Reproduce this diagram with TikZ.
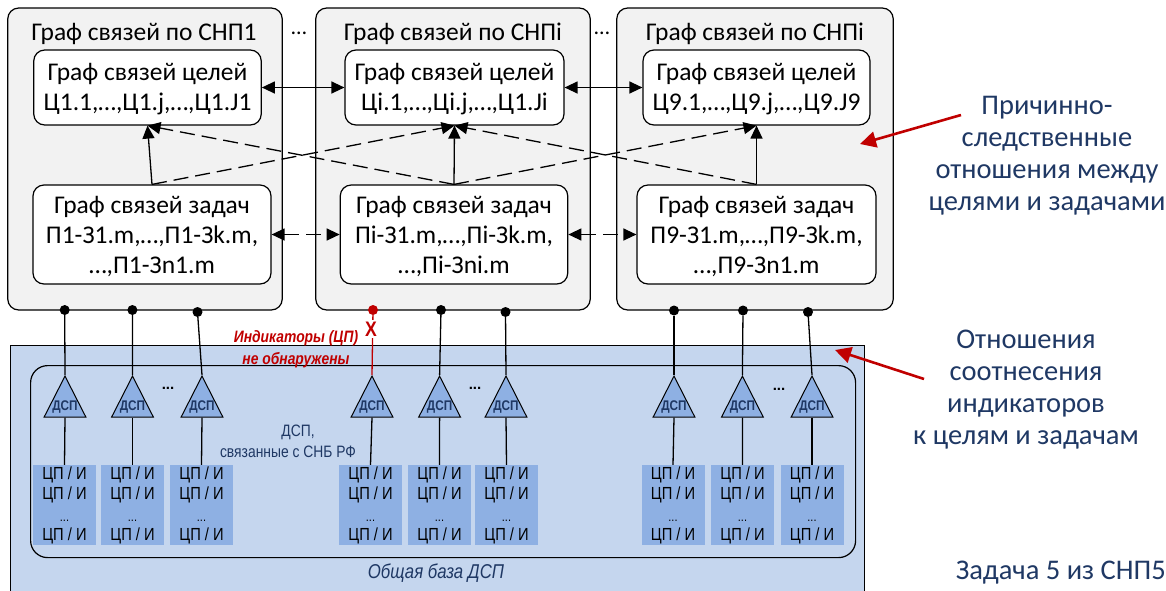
\documentclass[tikz,border=0pt]{standalone}
\usepackage{fontspec}
\setmainfont{Carlito}
\newfontfamily\arialf{Liberation Sans}
\newfontfamily\arialn[FakeStretch=0.84]{Liberation Sans}
\usetikzlibrary{arrows.meta,shapes.geometric}
\definecolor{navytext}{HTML}{1F3864}
\definecolor{redc}{HTML}{C00000}
\definecolor{basefill}{HTML}{C5D6EE}
\definecolor{cellfill}{HTML}{8EB0E3}
\definecolor{panelfill}{HTML}{F2F2F2}
\newcommand{\dropstrut}{\rule{0pt}{21pt}}
\newcommand{\celltext}{ЦП / И\\ЦП / И\\[2pt]{\fontsize{13}{13}\selectfont ...}\\[-1pt]ЦП / И}
\tikzset{
  panel/.style={draw=black,line width=1.2pt,fill=panelfill,rounded corners=11pt,inner sep=0pt},
  graphbox/.style={draw=black,line width=1.2pt,fill=white,rounded corners=11pt,inner sep=0pt,align=center,
    font=\fontsize{25.5}{30}\selectfont},
  paneltitle/.style={font=\fontsize{25.5}{26}\selectfont,inner sep=0pt},
  conn/.style={line width=1.3pt,draw=black},
  headboth/.style={{Triangle[length=13pt,width=12pt]}-{Triangle[length=13pt,width=12pt]}},
  headend/.style={-{Triangle[length=13pt,width=12pt]}},
  dashline/.style={dash pattern=on 15pt off 7pt},
  dotnode/.style={circle,fill=black,minimum size=10pt,inner sep=0pt},
  trinode/.style={isosceles triangle,isosceles triangle apex angle=54,shape border rotate=90,
    draw=black,line width=1pt,fill=cellfill,minimum height=41pt,inner sep=0pt,anchor=apex},
  dsplabel/.style={font=\arialn\bfseries\fontsize{14}{16}\selectfont,text=navytext,inner sep=0pt},
  cellnode/.style={fill=cellfill,minimum width=63pt,minimum height=80pt,inner sep=0pt,align=center,
    font=\arialn\fontsize{17.5}{20}\selectfont},
  notetext/.style={font=\fontsize{28.5}{32}\selectfont,text=navytext,align=center,inner sep=0pt},
  redarrow/.style={draw=redc,line width=2.6pt,-{Triangle[length=16pt,width=16pt]}},
}
\begin{document}
\begin{tikzpicture}[x=1pt,y=-1pt]
\useasboundingbox (0,0) rectangle (1166,590);
% base
\node[draw=black,line width=1.2pt,fill=basefill,minimum width=854pt,minimum height=250pt,inner sep=0pt,anchor=north west] (base) at (10,345) {};
\node[draw=black,line width=1.2pt,rounded corners=17pt,minimum width=825pt,minimum height=192pt,inner sep=0pt,anchor=north west] (inner) at (30,365) {};
% panels
\node[panel,minimum width=274.5pt,minimum height=302pt] (p1) at (145,159) {};
\node[panel,minimum width=274.5pt,minimum height=302pt] (p2) at (453,159) {};
\node[panel,minimum width=276.5pt,minimum height=302pt] (p3) at (755,159) {};
\node[paneltitle] (pt1) at (144,34) {Граф связей по СНП1};
\node[paneltitle] (pt2) at (453,34) {Граф связей по СНПi};
\node[paneltitle] (pt3) at (755,34) {Граф связей по СНПi};
\node[font=\fontsize{22}{26}\selectfont,inner sep=0pt] (dots1) at (299,33) {…};
\node[font=\fontsize{22}{26}\selectfont,inner sep=0pt] (dots2) at (602,33) {…};
% goals
\node[graphbox,minimum width=227.5pt,minimum height=75pt] (g1) at (147.5,87.5) {\dropstrut Граф связей целей\\Ц1.1,…,Ц1.j,…,Ц1.J1};
\node[graphbox,minimum width=219pt,minimum height=75pt] (g2) at (454.5,87.5) {\dropstrut Граф связей целей\\Ці.1,…,Ці.j,…,Ц1.Ji};
\node[graphbox,minimum width=227pt,minimum height=75pt] (g3) at (756.5,87.5) {\dropstrut Граф связей целей\\Ц9.1,…,Ц9.j,…,Ц9.J9};
% tasks
\node[graphbox,minimum width=238pt,minimum height=99pt] (t1) at (152,234.5) {\dropstrut Граф связей задач\\П1-З1.m,…,П1-Зk.m,\\…,П1-Зn1.m};
\node[graphbox,minimum width=227.5pt,minimum height=99pt] (t2) at (454,234.5) {\dropstrut Граф связей задач\\Пі-З1.m,…,Пі-Зk.m,\\…,Пі-Зni.m};
\node[graphbox,minimum width=239pt,minimum height=99pt] (t3) at (756.5,234.5) {\dropstrut Граф связей задач\\П9-З1.m,…,П9-Зk.m,\\…,П9-Зn1.m};
% connectors between graphs
\draw[conn,headboth] (g1) -- (g2);
\draw[conn,headboth] (g2) -- (g3);
\draw[conn,headboth,dashline] (t1) -- (t2);
\draw[conn,headboth,dashline] (t2) -- (t3);
\draw[conn,headend] (t1.north) -- (g1.south);
\draw[conn,headend] (t2.north) -- (g2.south);
\draw[conn,headend] (t3.north) -- (g3.south);
\draw[conn,headend,dashline] (t2.north) -- (g1.south);
\draw[conn,headend,dashline] (t1.north) -- (g2.south);
\draw[conn,headend,dashline] (t3.north) -- (g2.south);
\draw[conn,headend,dashline] (t2.north) -- (g3.south);
% indicator columns
\foreach \n/\px/\py/\ax/\rx in {1/64.7/310/65/64.5,2/132.4/310/132.5/132.5,3/197.5/312/202/201.5,
  5/441/310/439.6/439.5,6/505.5/312/506/506.5,7/674/310.5/674/673,8/743/310.5/742.4/742.5,9/808/312/812/812}{
  \node[dotnode] (d\n) at (\px,\py) {};
  \node[trinode] (tr\n) at (\ax,375) {};
  \node[dsplabel] (dl\n) at (\ax,407) {ДСП};
  \node[cellnode] (c\n) at (\rx,505) {\celltext};
  \draw[conn] (d\n) -- (tr\n.apex);
  \draw[conn] (tr\n.lower side) -- (c\n.north);
}
% red column
\node[dotnode,fill=redc] (d4) at (373,310) {};
\node[trinode] (tr4) at (372,375) {};
\node[dsplabel] (dl4) at (372,407) {ДСП};
\node[cellnode] (c4) at (370.5,505) {\celltext};
\draw[line width=1.3pt,draw=redc] (d4) -- (tr4.apex);
\draw[conn] (tr4.lower side) -- (c4.north);
\node[fill=white,text=redc,font=\arialn\bfseries\fontsize{21}{21}\selectfont,inner sep=1.5pt] (xmark) at (371,329) {X};
\node[font=\arialn\bfseries\itshape\fontsize{16.5}{22}\selectfont,text=redc,align=center,inner sep=0pt] (redlabel) at (296,349) {Индикаторы (ЦП)\\не обнаружены};
% dots in base
\node[font=\arialf\bfseries\fontsize{15}{15}\selectfont,inner sep=0pt] (b1) at (168,388) {...};
\node[font=\arialf\bfseries\fontsize{15}{15}\selectfont,inner sep=0pt] (b2) at (475,388) {...};
\node[font=\arialf\bfseries\fontsize{15}{15}\selectfont,inner sep=0pt] (b3) at (779,389) {...};
\node[font=\arialn\fontsize{16.5}{21}\selectfont,text=navytext,align=center,inner sep=0pt] (dsptext) at (288,441) {\hspace*{20pt}ДСП,\\связанные с СНБ РФ};
\node[font=\arialn\itshape\fontsize{20}{22}\selectfont,text=navytext,inner sep=0pt] (basename) at (436,573) {Общая база ДСП};
% notes
\node[notetext] (n1) at (1047,156) {Причинно-\\следственные\\отношения между\\целями и задачами};
\node[notetext] (n2) at (1026,390) {Отношения\\соотнесения\\индикаторов\\к целям и задачам};
\node[font=\fontsize{28.5}{30}\selectfont,text=navytext,inner sep=0pt,anchor=east] (n3) at (1166,573) {Задача 5 из СНП5};
\coordinate (a1) at (961,115);
\coordinate (a1t) at (860,144);
\coordinate (a2) at (924,379);
\coordinate (a2t) at (835,350);
\draw[redarrow] (a1) -- (a1t);
\draw[redarrow] (a2) -- (a2t);
\end{tikzpicture}
\end{document}
